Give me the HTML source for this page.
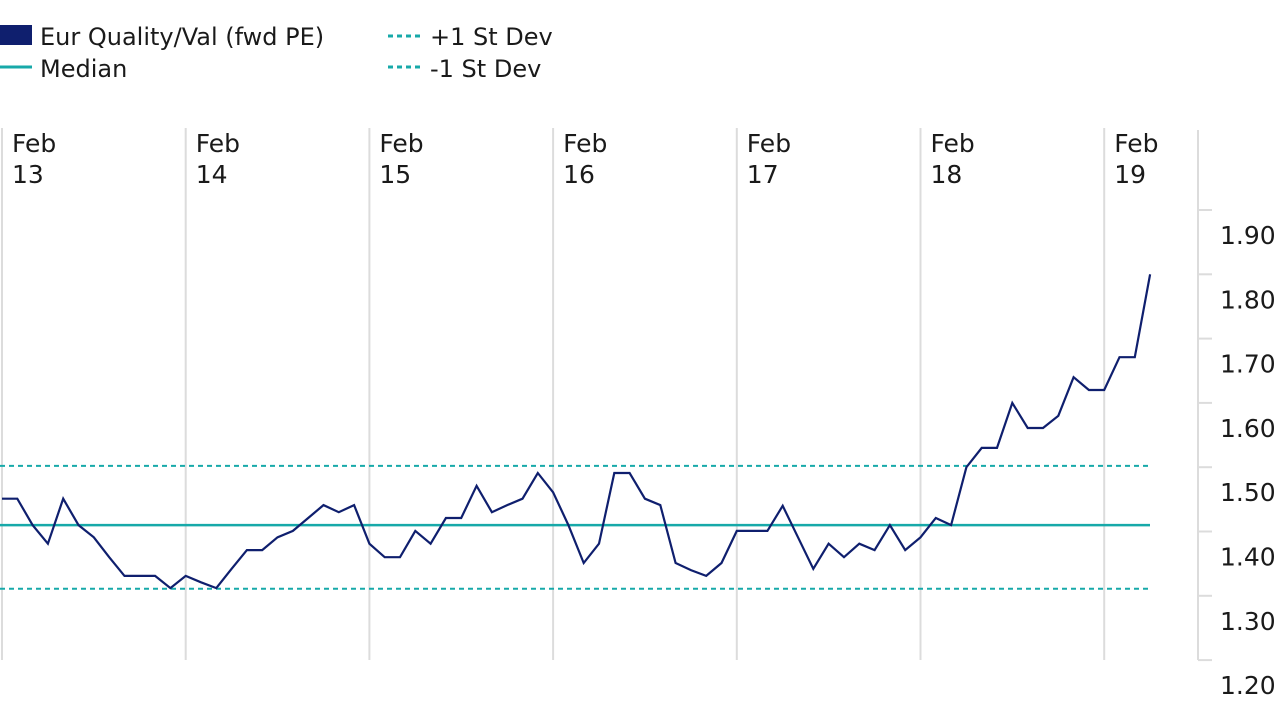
<!DOCTYPE html>
<html><head><meta charset="utf-8"><style>
body{margin:0;background:#fff;font-family:"DejaVu Sans","Liberation Sans",sans-serif;}
svg text{font-family:"DejaVu Sans","Liberation Sans",sans-serif;fill:#1a1a1a;}
</style></head><body>
<svg id="chart" width="1280" height="720" xmlns="http://www.w3.org/2000/svg">
<g>
<rect x="0" y="25" width="32" height="20" fill="#0f1f6e"/>
<text x="40" y="45" font-size="24">Eur Quality/Val (fwd PE)</text>
<line x1="0" y1="67" x2="32" y2="67" stroke="#17a9a9" stroke-width="3"/>
<text x="40" y="77" font-size="24">Median</text>
<line x1="388" y1="36" x2="422" y2="36" stroke="#17a9a9" stroke-width="3" stroke-dasharray="5,4"/>
<text x="430" y="45" font-size="24">+1 St Dev</text>
<line x1="388" y1="67" x2="422" y2="67" stroke="#17a9a9" stroke-width="3" stroke-dasharray="5,4"/>
<text x="430" y="77" font-size="24">-1 St Dev</text>
</g>
<g id="grid"></g><g id="axis"></g><g id="refs"></g><g id="series"></g>
</svg>
<script>
const years=["13","14","15","16","17","18","19"];
const yTicks=[1.90,1.80,1.70,1.60,1.50,1.40,1.30,1.20];
const median=[1.41];
const plusSD=[1.502];
const minusSD=[1.311];
const values=[1.451,1.451,1.410,1.381,1.451,1.410,1.391,1.360,1.331,1.331,1.331,1.312,1.331,1.321,1.312,1.342,1.371,1.371,1.391,1.401,1.421,1.441,1.430,1.441,1.381,1.360,1.360,1.401,1.381,1.421,1.421,1.471,1.430,1.441,1.451,1.491,1.461,1.410,1.351,1.381,1.491,1.491,1.451,1.441,1.351,1.340,1.331,1.351,1.401,1.401,1.401,1.440,1.391,1.342,1.381,1.360,1.381,1.371,1.410,1.371,1.391,1.421,1.410,1.500,1.530,1.530,1.600,1.561,1.561,1.580,1.640,1.620,1.620,1.671,1.671,1.800];
const NS="http://www.w3.org/2000/svg";
const x0=2,yearW=183.7,monthW=yearW/12;
const xIdx=i=>x0+i*monthW;
const yVal=v=>210+(1.90-v)*643;
function mk(p,t,a){const e=document.createElementNS(NS,t);for(const k in a)e.setAttribute(k,a[k]);p.appendChild(e);return e;}
const grid=document.getElementById('grid'),axis=document.getElementById('axis'),refs=document.getElementById('refs'),ser=document.getElementById('series');
years.forEach((y,i)=>{const gx=x0+i*yearW;
const l=mk(grid,'line',{x1:gx,y1:128,x2:gx,y2:660,stroke:'#dcdcdc','stroke-width':2});


const t1=mk(grid,'text',{x:gx+10,y:152,'font-size':25});t1.textContent='Feb';


const t2=mk(grid,'text',{x:gx+10,y:183,'font-size':25});t2.textContent=y;

});
const ax=mk(axis,'line',{x1:1198,y1:130,x2:1198,y2:660,stroke:'#dcdcdc','stroke-width':2});


yTicks.forEach(v=>{const ty=yVal(v);
const tk=mk(axis,'line',{x1:1198,y1:ty,x2:1212,y2:ty,stroke:'#dcdcdc','stroke-width':2});


const t=mk(axis,'text',{x:1220,y:ty+34,'font-size':25});t.textContent=v.toFixed(2);

});
[[median[0],'median-line',null],[plusSD[0],'plus-sd-line','5,4'],[minusSD[0],'minus-sd-line','5,4']].forEach(r=>{
const a={x1:0,y1:yVal(r[0]),x2:1150,y2:yVal(r[0]),stroke:'#17a9a9','stroke-width':r[2]?2:2.5};if(r[2])a['stroke-dasharray']=r[2];
const l=mk(refs,'line',a);

});
const pl=mk(ser,'polyline',{points:values.map((v,i)=>xIdx(i).toFixed(1)+','+yVal(v).toFixed(1)).join(' '),fill:'none',stroke:'#0f1f6e','stroke-width':2.2,'stroke-linejoin':'miter'});


</script>
</body></html>
